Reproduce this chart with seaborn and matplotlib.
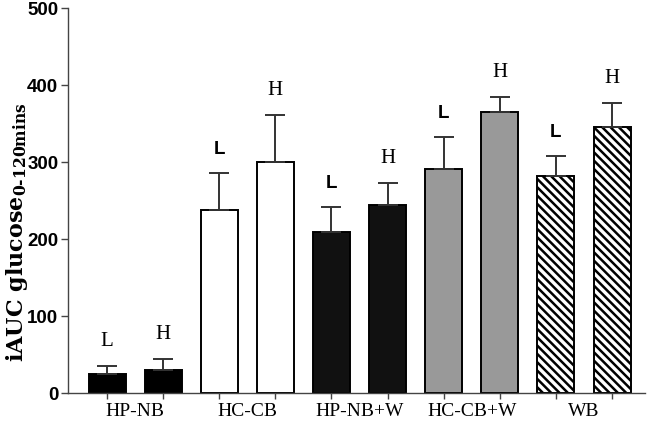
import numpy as np
import pandas as pd
import seaborn as sns
import matplotlib.pyplot as plt

groups = ["HP-NB", "HC-CB", "HP-NB+W", "HC-CB+W", "WB"]
levels = ["L", "H"]
means = [25, 30, 238, 300, 209, 244, 291, 365, 282, 345]
errors = [10, 14, 48, 61, 32, 29, 41, 19, 26, 31]
group_colors = ["#000000", "#ffffff", "#111111", "#999999", "#ffffff"]
group_hatch = ["", "", "", "", "\\\\\\\\"]

sns.set_theme(style="ticks")
plt.rcParams["hatch.linewidth"] = 1.8
plt.rcParams["mathtext.fontset"] = "custom"
plt.rcParams["mathtext.rm"] = "DejaVu Serif:bold"
plt.rcParams["mathtext.bf"] = "DejaVu Serif:bold"
plt.rcParams["mathtext.default"] = "bf"

df = pd.DataFrame({
    "bar": [f"{g} {l}" for g in groups for l in levels],
    "group": [g for g in groups for _ in levels],
    "level": [l for _ in groups for l in levels],
    "value": means,
    "err": errors,
})
colors = [c for c in group_colors for _ in levels]
hatches = [h for h in group_hatch for _ in levels]

fig = plt.figure(figsize=(6.51, 4.38), dpi=100)
ax = fig.add_axes([0.1045, 0.1027, 0.8865, 0.879])

sns.barplot(data=df, x="bar", y="value", hue="bar", palette=colors,
            order=df["bar"], errorbar=None, width=0.66, legend=False,
            edgecolor="black", linewidth=1.4, ax=ax)

for patch, h in zip(ax.patches, hatches):
    if h:
        patch.set_hatch(h)
        patch.set_edgecolor("black")

xs = np.arange(len(df))
ax.errorbar(xs, df["value"], yerr=[np.zeros(len(df)), df["err"]],
            fmt="none", ecolor="#333333", elinewidth=1.4, capsize=7,
            capthick=1.4, zorder=1)

for i, row in df.iterrows():
    top = row["value"] + row["err"]
    if row["level"] == "L" and i > 0:
        fp = dict(family="Liberation Sans", weight="bold", fontsize=13.5)
    else:
        fp = dict(family="Liberation Serif", fontsize=15)
    ax.annotate(row["level"], (i, top), xytext=(0, 11),
                textcoords="offset points", ha="center", va="bottom",
                color="black", **fp)

ax.set_xlim(-0.695, 9.59)
ax.set_ylim(0, 500)
ax.set_xticks(xs)
ax.set_xticklabels([])
ax.set_xticks([2 * k + 0.5 for k in range(len(groups))], minor=True)
ax.set_xticklabels(groups, minor=True, family="Liberation Serif", fontsize=14)
ax.tick_params(axis="x", which="minor", length=0, pad=7, labelcolor="black")
ax.tick_params(axis="x", which="major", length=4, width=1, color="#444444", direction="out")
ax.set_yticks([0, 100, 200, 300, 400, 500])
ax.tick_params(axis="y", length=5, width=1, color="#444444", direction="out", pad=2,
               labelcolor="black")
for lab in ax.get_yticklabels():
    lab.set_fontfamily("Liberation Sans")
    lab.set_fontweight("bold")
    lab.set_fontsize(13.5)

ax.set_xlabel("")
ax.set_ylabel(r"iAUC glucose$_{0\text{-}120mins}$", family="DejaVu Serif",
              fontweight="bold", fontsize=16, color="black")
ax.yaxis.set_label_coords(-0.066, 0.418)

for s in ["left", "bottom"]:
    ax.spines[s].set_color("#444444")
    ax.spines[s].set_linewidth(1)
sns.despine(ax=ax)

fig.savefig("out.png", dpi=100)
